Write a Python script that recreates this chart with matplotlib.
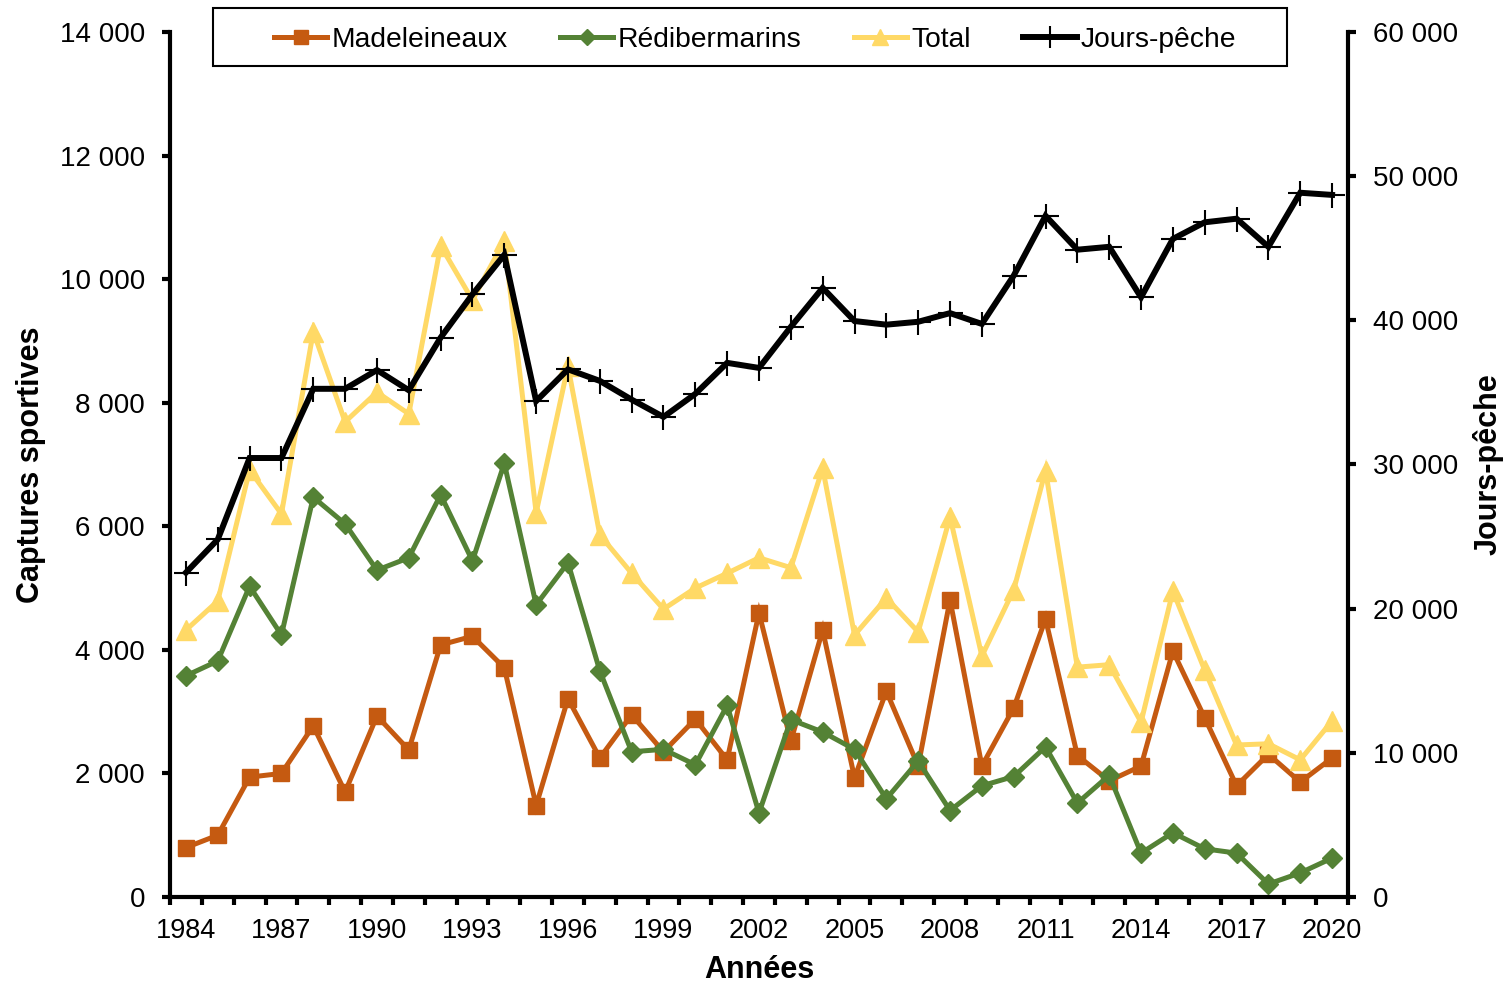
import numpy as np
import matplotlib
matplotlib.use("Agg")
import matplotlib.pyplot as plt
import matplotlib.ticker as mtick
from matplotlib.patches import Rectangle

plt.rcParams['font.family'] = ['Liberation Sans', 'DejaVu Sans']

years = list(range(1984, 2021))

madeleineaux = [800, 1000, 1940, 2000, 2770, 1700, 2930, 2380, 4080, 4220,
                3710, 1480, 3210, 2250, 2950, 2350, 2880, 2220, 4600, 2520,
                4320, 1930, 3330, 2120, 4810, 2120, 3060, 4500, 2290, 1880,
                2120, 3980, 2900, 1800, 2310, 1860, 2250]

redibermarins = [3580, 3820, 5030, 4240, 6470, 6040, 5290, 5490, 6510, 5440,
                 7020, 4730, 5410, 3660, 2350, 2390, 2140, 3100, 1360, 2870,
                 2670, 2390, 1590, 2200, 1400, 1800, 1950, 2430, 1520, 1970,
                 710, 1040, 780, 710, 210, 390, 630]

total = [4320, 4790, 6910, 6200, 9150, 7690, 8170, 7820, 10540, 9660,
         10620, 6220, 8590, 5860, 5240, 4660, 5000, 5240, 5490, 5330,
         6940, 4240, 4840, 4290, 6150, 3900, 4970, 6900, 3720, 3760,
         2830, 4950, 3670, 2460, 2480, 2220, 2850]

jours_peche = [22500, 24800, 30450, 30450, 35250, 35250, 36550, 35150, 38800, 41800,
               44550, 34400, 36600, 35800, 34500, 33300, 34900, 37050, 36700, 39550,
               42250, 39950, 39700, 39900, 40500, 39750, 43100, 47250, 44900, 45100,
               41600, 45650, 46800, 47050, 45100, 48850, 48700]

x = np.array(years)

fig = plt.figure(figsize=(15.07, 9.86), dpi=100)
ax = fig.add_axes([170 / 1507, 1 - 897 / 986, (1348 - 170) / 1507, (897 - 32) / 986])
ax2 = ax.twinx()

l1, = ax.plot(x, madeleineaux, color='#C55A11', lw=3.6, marker='s', ms=12,
              label='Madeleineaux', solid_joinstyle='miter')
l2, = ax.plot(x, redibermarins, color='#548235', lw=3.6, marker='D', ms=10,
              label='Rédibermarins', solid_joinstyle='miter')
l3, = ax.plot(x, total, color='#FFD966', lw=3.6, marker='^', ms=14,
              label='Total', solid_joinstyle='miter')
l4, = ax2.plot(x, jours_peche, color='black', lw=4.3, marker='+', ms=18, mew=1.5,
               label='Jours-pêche', solid_joinstyle='miter')

ax.set_xlim(1983.5, 2020.5)
ax.set_ylim(0, 14000)
ax2.set_ylim(0, 60000)
ax.set_yticks(np.arange(0, 14001, 2000))
ax2.set_yticks(np.arange(0, 60001, 10000))

fmt = mtick.FuncFormatter(lambda v, p: '{:,.0f}'.format(v).replace(',', ' '))
ax.yaxis.set_major_formatter(fmt)
ax2.yaxis.set_major_formatter(fmt)

# category axis: ticks between years, labels every 3 years
ax.set_xticks(np.arange(1983.5, 2021, 1))
ax.set_xticklabels([])
ax.set_xticks(years[::3], minor=True)
ax.set_xticklabels([str(y) for y in years[::3]], minor=True)

for a in (ax, ax2):
    a.spines['top'].set_visible(False)
    for s in a.spines.values():
        s.set_linewidth(3)
        s.set_color('black')
ax.spines['right'].set_visible(False)
ax2.spines['left'].set_visible(False)
ax2.spines['bottom'].set_visible(False)

ax.tick_params(axis='x', which='major', direction='out', length=6, width=3)
ax.tick_params(axis='x', which='minor', length=0, pad=15, labelsize=19.5)
ax.tick_params(axis='y', direction='out', length=6, width=3, pad=12, labelsize=20)
ax2.tick_params(axis='y', direction='out', length=6, width=3, pad=12, labelsize=20)

ax.set_xlabel('Années', fontsize=22, fontweight='bold', labelpad=8)
ax.set_ylabel('Captures sportives', fontsize=22, fontweight='bold', labelpad=10)
ax2.set_ylabel('Jours-pêche', fontsize=22, fontweight='bold', labelpad=10)

# legend box drawn separately so the padding matches
box = Rectangle((213 / 1507, 1 - 66 / 986), (1287 - 213) / 1507, 58 / 986,
                transform=fig.transFigure, facecolor='white', edgecolor='black',
                lw=1.5, zorder=5)
fig.patches.append(box)
leg = fig.legend([l1, l2, l3, l4], ['Madeleineaux', 'Rédibermarins', 'Total', 'Jours-pêche'],
                 loc='center', bbox_to_anchor=(755 / 1507, 1 - 40 / 986), ncol=4,
                 fontsize=20.3, frameon=False, handlelength=1.9, handletextpad=0.15,
                 columnspacing=1.85, borderpad=0, borderaxespad=0, markerscale=0.85)
leg.set_zorder(6)

fig.savefig('out.png', dpi=100)
